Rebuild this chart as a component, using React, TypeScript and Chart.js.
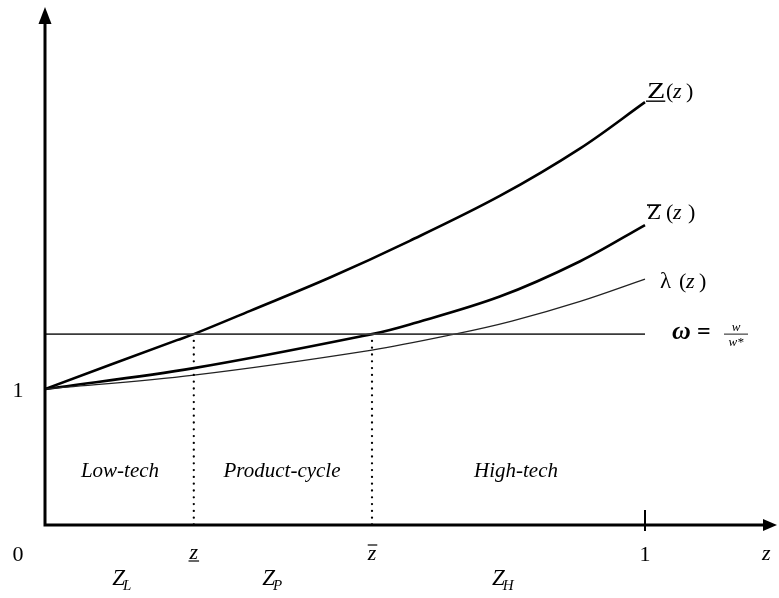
import React, { useEffect, useRef } from "react";
import { Chart, registerables } from "chart.js";

Chart.register(...registerables);

// Threshold curve Z_(z) (underlined)
const lowZx = [0, 0.22, 0.248, 0.342, 0.475, 0.608, 0.758, 0.892, 1.0];
const lowZy = [1.0, 1.36, 1.404, 1.575, 1.82, 2.09, 2.42, 2.77, 3.11];

// Threshold curve Z̄(z) (overlined)
const highZx = [0, 0.248, 0.545, 0.608, 0.758, 0.892, 1.0];
const highZy = [1.0, 1.154, 1.404, 1.475, 1.68, 1.94, 2.206];

// Productivity ratio λ(z)
const lambdaX = [0, 0.248, 0.545, 0.683, 0.778, 0.892, 1.0];
const lambdaY = [1.0, 1.103, 1.287, 1.404, 1.5, 1.645, 1.809];

// Relative wage ω = w / w*
const omegaLevel = 1.404;

// Cut-offs z_ and z̄
const zLow = 0.248;
const zHigh = 0.545;

const xMax = 1.22;
const yMax = 3.81;

const regionLabels = ["Low-tech", "Product-cycle", "High-tech"];
const regionCenters = [0.125, 0.395, 0.785];
const setLabels = ["L", "P", "H"];
const setStarts = [0.112, 0.362, 0.745];

const serif = '"Liberation Serif", "Times New Roman", "DejaVu Serif", serif';

const toPoints = (xs: number[], ys: number[]) => xs.map((x, i) => ({ x, y: ys[i] }));

const diagramPlugin = {
  id: "diagram",
  afterDraw(chart: any) {
    const { ctx } = chart;
    const xs = chart.scales.x;
    const ys = chart.scales.y;
    const px = (v: number) => xs.getPixelForValue(v);
    const py = (v: number) => ys.getPixelForValue(v);
    const x0 = px(0);
    const y0 = py(0);

    ctx.save();
    ctx.fillStyle = "#000";
    ctx.strokeStyle = "#000";

    // axes
    ctx.lineWidth = 3;
    ctx.beginPath();
    ctx.moveTo(x0, y0 + 1.5);
    ctx.lineTo(x0, ys.top + 14);
    ctx.moveTo(x0 - 1.5, y0);
    ctx.lineTo(xs.right - 10, y0);
    ctx.stroke();

    // arrow heads
    ctx.beginPath();
    ctx.moveTo(x0, ys.top);
    ctx.lineTo(x0 - 6.5, ys.top + 17);
    ctx.lineTo(x0 + 6.5, ys.top + 17);
    ctx.closePath();
    ctx.fill();
    ctx.beginPath();
    ctx.moveTo(xs.right, y0);
    ctx.lineTo(xs.right - 14, y0 - 6);
    ctx.lineTo(xs.right - 14, y0 + 6);
    ctx.closePath();
    ctx.fill();

    // tick at z = 1
    ctx.lineWidth = 2;
    ctx.beginPath();
    ctx.moveTo(px(1), y0 - 15);
    ctx.lineTo(px(1), y0 + 6);
    ctx.stroke();

    const text = (s: string, x: number, y: number, font: string, align: CanvasTextAlign = "left") => {
      ctx.font = font;
      ctx.textAlign = align;
      ctx.textBaseline = "alphabetic";
      ctx.fillText(s, x, y);
      return ctx.measureText(s).width;
    };
    const hline = (xa: number, xb: number, y: number, w = 1.3) => {
      ctx.lineWidth = w;
      ctx.beginPath();
      ctx.moveTo(xa, y);
      ctx.lineTo(xb, y);
      ctx.stroke();
    };
    const wideZ = (x: number, y: number, font: string, sx: number) => {
      ctx.save();
      ctx.translate(x, y);
      ctx.scale(sx, 1);
      ctx.font = font;
      ctx.textAlign = "left";
      ctx.fillText("Z", 0, 0);
      const w = ctx.measureText("Z").width * sx;
      ctx.restore();
      return w;
    };

    const up22 = `22px ${serif}`;
    const it22 = `italic 22px ${serif}`;

    // curve labels
    const xe = px(1);
    let b = py(lowZy[lowZy.length - 1]) - 4;
    let w = wideZ(xe + 2, b, `23px ${serif}`, 1.3);
    hline(xe + 1, xe + 2 + w, b + 3, 1.4);
    text("(", xe + 21, b, up22);
    text("z", xe + 28, b, it22);
    text(")", xe + 41, b, up22);

    b = py(highZy[highZy.length - 1]) - 6;
    w = wideZ(xe + 2, b, `22px ${serif}`, 1.05);
    hline(xe + 2, xe + 2 + w, b - 14, 1.6);
    text("(", xe + 21, b, up22);
    text("z", xe + 28, b, it22);
    text(")", xe + 43, b, up22);

    b = py(lambdaY[lambdaY.length - 1]) + 9;
    text("λ", xe + 15, b, `23px ${serif}`);
    text("(", xe + 34, b, up22);
    text("z", xe + 41, b, it22);
    text(")", xe + 54, b, up22);

    b = py(omegaLevel) + 5;
    text("ω", xe + 27, b, `bold italic 26px ${serif}`);
    text("=", xe + 52, b, `bold 24px ${serif}`);
    text("w", xe + 91, b - 8, `italic 13px ${serif}`, "center");
    hline(xe + 79, xe + 103, b - 5, 0.9);
    text("w*", xe + 91, b + 7, `italic 13px ${serif}`, "center");

    // axis labels
    text("1", x0 - 27, py(1) + 8, up22, "center");
    const tb = y0 + 36;
    text("0", x0 - 27, tb, up22, "center");
    const zw = text("z", px(zLow), tb - 2, it22, "center");
    hline(px(zLow) - zw / 2 - 1, px(zLow) + zw / 2 + 1, tb, 1.2);
    const zw2 = text("z", px(zHigh), tb - 1, it22, "center");
    hline(px(zHigh) - zw2 / 2, px(zHigh) + zw2 / 2 + 1, tb - 16, 1.2);
    text("1", px(1), tb, up22, "center");
    text("z", px(1.202), tb - 1, it22, "center");

    // sets Z_L, Z_P, Z_H
    setLabels.forEach((s, i) => {
      const sx = px(setStarts[i]);
      const zwid = text("Z", sx, y0 + 60, `italic 23px ${serif}`);
      text(s, sx + zwid - 2, y0 + 65, `italic 15px ${serif}`);
    });

    // regions
    regionLabels.forEach((s, i) => {
      text(s, px(regionCenters[i]), y0 - 48, `italic 21px ${serif}`, "center");
    });

    ctx.restore();
  },
};

export default function App() {
  const canvasRef = useRef<HTMLCanvasElement | null>(null);

  useEffect(() => {
    document.body.style.margin = "0";
    const canvas = canvasRef.current;
    if (!canvas) return;

    const dotted = {
      borderColor: "#000",
      borderWidth: 2.3,
      borderDash: [0, 6.8],
      borderCapStyle: "round" as const,
      pointRadius: 0,
    };

    const curve = { pointRadius: 0, tension: 0.35 };

    const chart = new Chart(canvas, {
      type: "line",
      data: {
        datasets: [
          {
            label: "omega",
            data: [
              { x: 0, y: omegaLevel },
              { x: 1, y: omegaLevel },
            ],
            borderColor: "#3a3a3a",
            borderWidth: 1.8,
            pointRadius: 0,
          },
          {
            label: "zLow",
            data: [
              { x: zLow, y: omegaLevel },
              { x: zLow, y: 0 },
            ],
            ...dotted,
          },
          {
            label: "zHigh",
            data: [
              { x: zHigh, y: omegaLevel },
              { x: zHigh, y: 0 },
            ],
            ...dotted,
          },
          {
            label: "lambda",
            data: toPoints(lambdaX, lambdaY),
            borderColor: "#222",
            borderWidth: 1.3,
            ...curve,
          },
          {
            label: "Zbar",
            data: toPoints(highZx, highZy),
            borderColor: "#000",
            borderWidth: 2.6,
            ...curve,
          },
          {
            label: "Zunder",
            data: toPoints(lowZx, lowZy),
            borderColor: "#000",
            borderWidth: 2.6,
            ...curve,
          },
        ],
      },
      options: {
        responsive: false,
        animation: false,
        devicePixelRatio: 1,
        layout: { padding: { left: 45, right: 2, top: 7, bottom: 73 } },
        plugins: { legend: { display: false }, tooltip: { enabled: false } },
        scales: {
          x: { type: "linear", min: 0, max: xMax, display: false },
          y: { type: "linear", min: 0, max: yMax, display: false },
        },
      },
      plugins: [diagramPlugin],
    });

    return () => chart.destroy();
  }, []);

  return (
    <div style={{ position: "fixed", left: 0, top: 0, width: 779, height: 598, background: "#fff" }}>
      <canvas ref={canvasRef} width={779} height={598} style={{ display: "block" }} />
    </div>
  );
}
